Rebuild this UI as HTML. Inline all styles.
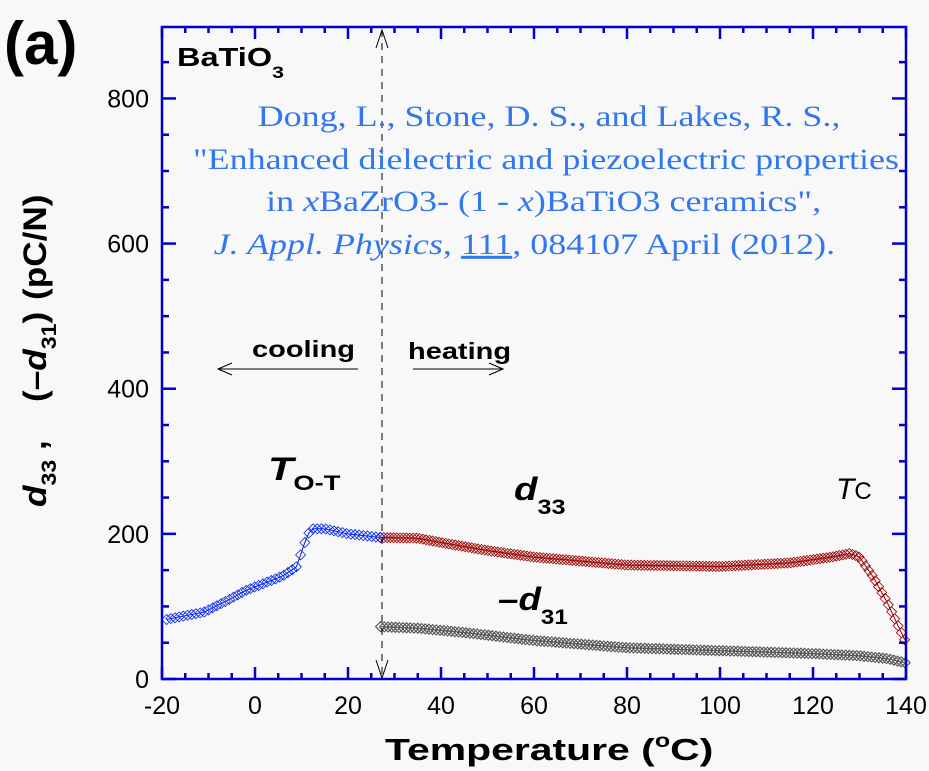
<!DOCTYPE html>
<html><head><meta charset="utf-8"><style>
body{margin:0;background:#f8f8f8;width:929px;height:771px;overflow:hidden}
svg{position:absolute;left:0;top:0}
</style></head><body>
<svg id="s" width="929" height="771" xmlns="http://www.w3.org/2000/svg" font-family="Liberation Sans, Arial, sans-serif">
<rect x="0" y="0" width="929" height="771" fill="#f8f8f8"/>
<g id="data"></g>
<rect x="162" y="27" width="744" height="652" fill="none" stroke="#0000cc" stroke-width="2.5"/>
<g id="ticks" stroke="#0000cc" stroke-width="2.5"></g>
<g font-size="25" fill="#000" text-anchor="middle" id="xl"></g>
<g font-size="25" fill="#000" text-anchor="end" id="yl"></g>
<line x1="382" y1="30" x2="382" y2="678" stroke="#000" stroke-width="1" stroke-dasharray="7,6"/>
<path d="M376,48 L382,30 L388,48 M376,660 L382,678 L388,660" fill="none" stroke="#000" stroke-width="1"/>
<text x="4" y="64" font-size="60" font-weight="bold">(a)</text>
<g transform="translate(177,66) scale(1.25,1)"><text x="0" y="0" font-size="26" font-weight="bold">BaTiO<tspan font-size="17" dy="12">3</tspan></text></g>
<g transform="scale(1.2,1)" font-family="Liberation Serif, serif" font-size="30" fill="#3377ee" text-anchor="middle">
<text x="457.5" y="126">Dong, L., Stone, D. S., and Lakes, R. S.,</text>
<text x="455" y="169">"Enhanced dielectric and piezoelectric properties</text>
<text x="453" y="211">in <tspan font-style="italic">x</tspan>BaZrO3- (1 - <tspan font-style="italic">x</tspan>)BaTiO3 ceramics",</text>
<text x="437" y="254"><tspan font-style="italic">J. Appl. Physics</tspan>, <tspan text-decoration="underline">111</tspan>, 084107 April (2012).</text>
</g>
<g transform="translate(252,357) scale(1.26,1)"><text font-size="23" font-weight="bold">cooling</text></g>
<g transform="translate(408,359) scale(1.26,1)"><text font-size="23" font-weight="bold">heating</text></g>
<path d="M358,369 L218,369 M232,363 L218,369 L232,375" fill="none" stroke="#000" stroke-width="1"/>
<path d="M413,369 L503,369 M489,363 L503,369 L489,375" fill="none" stroke="#000" stroke-width="1"/>
<g transform="translate(268,480) scale(1.3,1)"><text font-size="32" font-weight="bold" font-style="italic">T<tspan font-size="21" font-style="normal" dy="10">O-T</tspan></text></g>
<g transform="translate(514,500) scale(1.2,1)"><text font-size="32" font-weight="bold" font-style="italic">d<tspan font-size="21" font-style="normal" dy="14">33</tspan></text></g>
<g transform="translate(498,610) scale(1.15,1)"><text font-size="32" font-weight="bold" font-style="italic">–d<tspan font-size="21" font-style="normal" dy="14">31</tspan></text></g>
<text x="836" y="499" font-size="30" font-style="italic">T<tspan font-size="24" font-style="normal">C</tspan></text>
<g transform="translate(385,760) scale(1.32,1)"><text font-size="31" font-weight="bold">Temperature (<tspan font-size="19" dy="-13">o</tspan><tspan dy="13">C)</tspan></text></g>
<g transform="translate(46,0) rotate(-90)" font-size="32" font-weight="bold">
<g transform="translate(-507,0) scale(1.1,1)"><text><tspan font-style="italic">d</tspan><tspan font-size="21" dy="10">33</tspan><tspan dy="-10"> ,</tspan></text></g>
<g transform="translate(-402,0) scale(1.1,1)"><text>(–<tspan font-style="italic">d</tspan><tspan font-size="21" dy="10">31</tspan><tspan dy="-10">)</tspan></text></g>
<g transform="translate(-300,0) scale(1.1,1)"><text>(pC/N)</text></g>
</g>
</svg>
<script>
var NS="http://www.w3.org/2000/svg";
function X(t){return 162+(t+20)*4.65}
function Y(v){return 679-v*0.7257}
function el(p,n,a){var e=document.createElementNS(NS,n);for(var k in a)e.setAttribute(k,a[k]);p.appendChild(e);return e}
var tk=document.getElementById('ticks'),xl=document.getElementById('xl'),yl=document.getElementById('yl');
for(var t=-20;t<=140;t+=5){var maj=t%20==0,L=maj?12:6,x=X(t);
 el(tk,'line',{x1:x,y1:679,x2:x,y2:679-L});el(tk,'line',{x1:x,y1:27,x2:x,y2:27+L});
 if(maj){var e=el(xl,'text',{x:x,y:714});e.textContent=t;}}
for(var v=0;v<=850;v+=50){var maj=v%200==0,L=maj?14:7,y=Y(v);
 el(tk,'line',{x1:162,y1:y,x2:162+L,y2:y});el(tk,'line',{x1:906,y1:y,x2:906-L,y2:y});
 if(maj){var e=el(yl,'text',{x:149,y:y+9});e.textContent=v;}}
function interp(pts,t){for(var i=0;i<pts.length-1;i++){if(t>=pts[i][0]&&t<=pts[i+1][0]){var a=pts[i],b=pts[i+1],f=(t-a[0])/(b[0]-a[0]);return a[1]+f*(b[1]-a[1]);}}return pts[pts.length-1][1];}
function series(pts,col,step,t0,t1,w){var g=document.getElementById('data'),d='',m='';
 for(var t=t0;t<=t1+1e-9;t+=step){var x=X(t),y=Y(interp(pts,t));d+=(d?'L':'M')+x.toFixed(1)+','+y.toFixed(1);
  m+='M'+(x-5).toFixed(1)+','+y.toFixed(1)+'l5,-5l5,5l-5,5z';}
 el(g,'path',{d:m,fill:'none',stroke:col,'stroke-width':w});
 el(g,'path',{d:d,fill:'none',stroke:col,'stroke-width':1});}
var blue=[[-19,82],[-16,86],[-11,92],[-6,108],[-2,122],[2,132],[6,142],[9,155],[10.5,185],[12,207],[15,207],[20,200],[27,195]];
var red=[[27,195],[35,194],[40,188],[50,177],[60,168],[80,157],[100,155],[115,160],[124,168],[128,173],[130,168],[133,140],[136,105],[140,50]];
var gray=[[27,72],[35,70],[45,64],[60,53],[80,43],[100,39],[120,35],[130,32],[136,28],[140,22]];
series(gray,'#555555',0.8,27,140,1.1);
series(red,'#990000',0.7,27,140,0.8);
series(blue,'#0022ee',0.9,-19,27,0.8);
</script>
</body></html>
